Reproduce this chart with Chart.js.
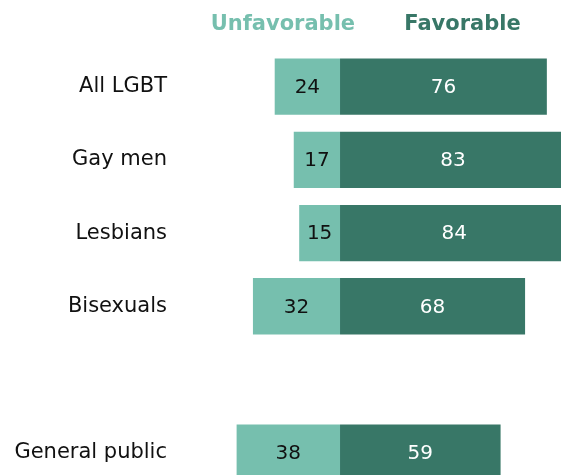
<!DOCTYPE html>
<html lang="en">
<head>
  <meta charset="UTF-8">
  <title>Favorable / Unfavorable</title>
  <script src="https://cdn.jsdelivr.net/npm/chart.js"></script>
  <style>
    body {
      margin: 0;
      overflow: hidden;
      background: #fff;
      font-family: "DejaVu Sans", Verdana, sans-serif;
    }
    canvas {
      display: block;
    }
  </style>
</head>
<body>

<canvas id="barChart" width="561" height="507"></canvas>

<script>
  // Data (blank slot makes the gap before General public)
  const groups = ['All LGBT', 'Gay men', 'Lesbians', 'Bisexuals', '', 'General public'];
  const unfavorable = [24, 17, 15, 32, null, 38];
  const favorable = [76, 83, 84, 68, null, 59];

  const lightTeal = '#76bfae';
  const darkTeal = '#387767';

  // value labels inside each bar + column headers on top
  const labelPlugin = {
    id: 'barLabels',
    afterDatasetsDraw(chart) {
      const ctx = chart.ctx;
      ctx.save();
      ctx.font = '20px "DejaVu Sans"';
      ctx.textAlign = 'center';
      ctx.textBaseline = 'middle';
      chart.data.datasets.forEach((ds, di) => {
        chart.getDatasetMeta(di).data.forEach((bar, i) => {
          if (ds.data[i] == null) return;
          const mid = (bar.x + bar.base) / 2;
          ctx.fillStyle = di === 0 ? '#111' : '#fff';
          ctx.fillText(Math.abs(ds.data[i]), mid, bar.y + 1);
        });
      });

      const x = chart.scales.x;
      ctx.font = 'bold 21px "DejaVu Sans"';
      ctx.fillStyle = lightTeal;
      ctx.fillText('Unfavorable', x.getPixelForValue(-21), 25);
      ctx.fillStyle = darkTeal;
      ctx.fillText('Favorable', x.getPixelForValue(45), 25);
      ctx.restore();
    }
  };

  const ctx = document.getElementById('barChart').getContext('2d');
  const chart = new Chart(ctx, {
    type: 'bar',
    data: {
      labels: groups,
      datasets: [{
        label: 'Unfavorable',
        data: unfavorable.map(v => v == null ? null : -v),
        backgroundColor: lightTeal,
        borderWidth: 0
      }, {
        label: 'Favorable',
        data: favorable,
        backgroundColor: darkTeal,
        borderWidth: 0
      }]
    },
    options: {
      indexAxis: 'y',
      responsive: false,
      animation: false,
      layout: {
        padding: { top: 50, left: 0, right: 0, bottom: 0 }
      },
      categoryPercentage: 1,
      barPercentage: 0.77,
      plugins: {
        legend: { display: false },
        tooltip: { enabled: false }
      },
      scales: {
        x: {
          stacked: true,
          display: false,
          min: -58.8,
          max: 81.2
        },
        y: {
          stacked: true,
          grid: { display: false },
          border: { display: false },
          ticks: {
            color: '#111',
            padding: 5,
            font: { family: 'DejaVu Sans', size: 21 }
          },
          afterFit(scale) {
            scale.width = 180;
          }
        }
      }
    },
    plugins: [labelPlugin]
  });
</script>

</body>
</html>
